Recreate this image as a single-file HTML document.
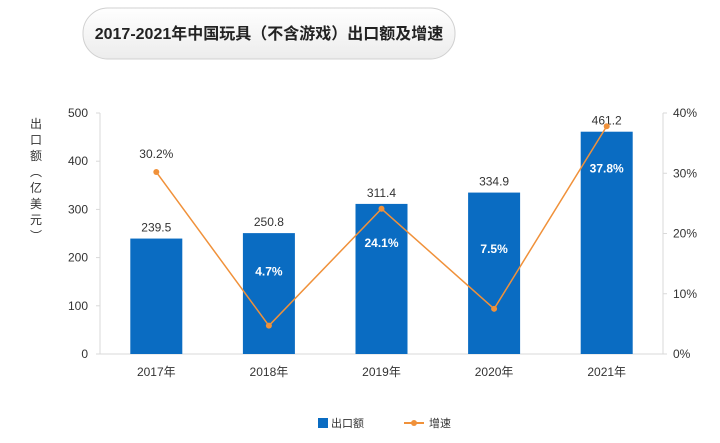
<!DOCTYPE html>
<html><head><meta charset="utf-8"><style>
body{margin:0;background:#fff;font-family:"Liberation Sans","Noto Sans CJK SC",sans-serif}
svg text{font-family:"Liberation Sans","Noto Sans CJK SC",sans-serif}
</style></head><body>
<svg id="c" width="720" height="438">
<defs><linearGradient id="tg" x1="0" y1="0" x2="0" y2="1"><stop offset="0" stop-color="#ffffff"/><stop offset="1" stop-color="#ececec"/></linearGradient></defs>
<rect x="83" y="8" width="372" height="51" rx="25" fill="url(#tg)" stroke="#d0d0d0"/>
<text x="269" y="39" text-anchor="middle" font-size="16" font-weight="bold" fill="#222">2017-2021年中国玩具（不含游戏）出口额及增速</text>
<text x="36" y="128" font-size="12" fill="#333"><tspan x="30" dy="0">出</tspan><tspan x="30" dy="16">口</tspan><tspan x="30" dy="16">额</tspan><tspan x="30" dy="16">︵</tspan><tspan x="30" dy="16">亿</tspan><tspan x="30" dy="16">美</tspan><tspan x="30" dy="16">元</tspan><tspan x="30" dy="16">︶</tspan></text>
<g id="g"></g>
<rect x="318" y="418" width="10" height="10" fill="#0a6cc2"/>
<text x="331" y="427" font-size="11" fill="#333">出口额</text>
<line x1="404" y1="423" x2="424" y2="423" stroke="#f0913a" stroke-width="2"/>
<circle cx="414" cy="423" r="3" fill="#f0913a"/>
<text x="429" y="427" font-size="11" fill="#333">增速</text>
</svg>
<script>
const categories=["2017年","2018年","2019年","2020年","2021年"];
const exportValues=[239.5,250.8,311.4,334.9,461.2];
const growthValues=[30.2,4.7,24.1,7.5,37.8];
const leftTicks=[0,100,200,300,400,500];
const rightTicks=[0,10,20,30,40];
const L=100,R=663,T=113,B=354;
const labelOffsets=[-14,-50,38,-56,46];
const band=(R-L)/categories.length;
const xC=i=>L+band*(i+0.5);
const yL=v=>B-(v/500)*(B-T);
const yR=v=>B-(v/40)*(B-T);
const g=document.getElementById('g');
const ns='http://www.w3.org/2000/svg';
function mk(t,a,txt){const e=document.createElementNS(ns,t);for(const k in a)e.setAttribute(k,a[k]);if(txt!==undefined)e.textContent=txt;g.appendChild(e);return e;}
let e;
e=mk('line',{x1:L,y1:T,x2:L,y2:B,stroke:'#d9d9d9'});


e=mk('line',{x1:R,y1:T,x2:R,y2:B,stroke:'#d9d9d9'});


e=mk('line',{x1:L,y1:B,x2:R,y2:B,stroke:'#d9d9d9'});


leftTicks.forEach(v=>{
 mk('line',{x1:L-4,y1:yL(v),x2:L,y2:yL(v),stroke:'#d9d9d9'});
 e=mk('text',{x:L-12,y:yL(v)+4,'text-anchor':'end','font-size':12,fill:'#333'},v);
 
 
});
rightTicks.forEach(v=>{
 mk('line',{x1:R,y1:yR(v),x2:R+4,y2:yR(v),stroke:'#d9d9d9'});
 e=mk('text',{x:R+10,y:yR(v)+4,'font-size':12,fill:'#333'},v+'%');
 
 
});
categories.forEach((c,i)=>{
 const x=xC(i),bw=52;
 e=mk('rect',{x:x-bw/2,y:yL(exportValues[i]),width:bw,height:B-yL(exportValues[i]),fill:'#0a6cc2'});
 
 
 e=mk('text',{x:x,y:yL(exportValues[i])-7,'text-anchor':'middle','font-size':12,fill:'#333'},exportValues[i].toFixed(1));
 
 
 e=mk('text',{x:x,y:B+22,'text-anchor':'middle','font-size':12,fill:'#333'},c);
 
 
});
const pts=growthValues.map((v,i)=>xC(i)+','+yR(v)).join(' ');
e=mk('polyline',{points:pts,fill:'none',stroke:'#f0913a','stroke-width':1.5});


growthValues.forEach((v,i)=>{
 e=mk('circle',{cx:xC(i),cy:yR(v),r:3,fill:'#f0913a'});
 
 
 const ty=yR(v)+labelOffsets[i];
 const inside=ty>yL(exportValues[i]);
 e=mk('text',{x:xC(i),y:ty,'text-anchor':'middle','font-size':12,fill:inside?'#fff':'#333','font-weight':inside?'bold':'normal'},v.toFixed(1)+'%');
 
 
});
</script>
</body></html>
